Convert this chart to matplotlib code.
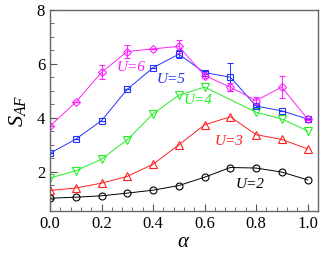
import matplotlib
matplotlib.use("Agg")
import matplotlib.pyplot as plt
from matplotlib.ticker import MultipleLocator

plt.rcParams["font.family"] = "serif"
plt.rcParams["font.serif"] = ["Liberation Serif", "DejaVu Serif"]
plt.rcParams["mathtext.fontset"] = "custom"
plt.rcParams["mathtext.it"] = "Liberation Serif:italic"
plt.rcParams["mathtext.rm"] = "Liberation Serif"

alpha = [0.0, 0.1, 0.2, 0.3, 0.4, 0.5, 0.6, 0.7, 0.8, 0.9, 1.0]
alpha_u4 = [0.0, 0.1, 0.2, 0.3, 0.4, 0.5, 0.6, 0.8, 0.9, 1.0]

s_u2 = [1.02, 1.06, 1.11, 1.21, 1.32, 1.49, 1.80, 2.16, 2.14, 1.99, 1.70]
s_u3 = [1.31, 1.40, 1.58, 1.83, 2.28, 3.00, 3.74, 4.04, 3.38, 3.20, 2.85]
s_u4 = [1.77, 2.04, 2.47, 3.19, 4.15, 4.84, 5.14, 4.21, 3.96, 3.52]
s_u5 = [2.69, 3.21, 3.90, 5.06, 5.86, 6.36, 5.68, 5.51, 4.44, 4.26, 3.96]
s_u6 = [3.70, 4.58, 5.69, 6.46, 6.56, 6.65, 5.57, 5.14, 4.64, 5.14, 3.96]
err_u5 = [0, 0, 0, 0, 0, 0.15, 0.05, 0.52, 0.05, 0, 0]
err_u6 = [0, 0, 0.26, 0.23, 0, 0.25, 0.08, 0.15, 0.14, 0.42, 0.05]

fig = plt.figure(figsize=(3.27, 2.63), dpi=100)
ax = fig.add_axes([0.153, 0.198, 0.819, 0.764])

lw = 0.7
ax.plot(alpha, s_u2, color="black", marker="o", ms=5, mfc="none",
        lw=lw, mew=0.8)
ax.plot(alpha, s_u3, color="#ff2020", marker="^", ms=5.5, mfc="none",
        lw=lw, mew=0.8)
ax.plot(alpha_u4, s_u4, color="#22ee22", marker="v", ms=5.5, mfc="none",
        lw=lw, mew=0.8)
ax.errorbar(alpha, s_u5, yerr=err_u5, color="#2233ff", marker="s", ms=5,
            mfc="none", lw=lw, mew=0.8, elinewidth=0.7, capsize=2.5)
ax.errorbar(alpha, s_u6, yerr=err_u6, color="#ff22ff", marker="D", ms=4.5,
            mfc="none", lw=lw, mew=0.8, elinewidth=0.7, capsize=2.5)

labels = [(0.26, 5.85, "U=6", "#ff22ff"),
          (0.415, 5.41, "U=5", "#2233ff"),
          (0.52, 4.64, "U=4", "#22ee22"),
          (0.64, 3.12, "U=3", "#ff2020"),
          (0.72, 1.52, "U=2", "black")]
for x, y, txt, col in labels:
    ax.text(x, y, txt, color=col, fontsize=11, style="italic", va="center")

ax.set_xlim(0, 1.04)
ax.set_ylim(0.55, 8)
ax.xaxis.set_minor_locator(MultipleLocator(0.04))
ax.yaxis.set_minor_locator(MultipleLocator(0.5))
ax.set_xticks([0.0, 0.2, 0.4, 0.6, 0.8, 1.0])
ax.set_xticklabels(["0.0", "0.2", "0.4", "0.6", "0.8", "1.0"])
ax.set_yticks([2, 4, 6, 8])
ax.set_yticklabels(["2", "4", "6", "8"])
ax.tick_params(which="both", direction="in", labelsize=12, color="#555555")
ax.tick_params(which="major", length=5)
ax.tick_params(which="minor", length=3)
for spine in ax.spines.values():
    spine.set_color("#666666")
    spine.set_linewidth(1.0)

ax.set_xlabel(r"$\alpha$", fontsize=15, labelpad=1)
ax.set_ylabel(r"$S_{AF}$", fontsize=16, labelpad=6)

fig.savefig("out.png", dpi=100)
